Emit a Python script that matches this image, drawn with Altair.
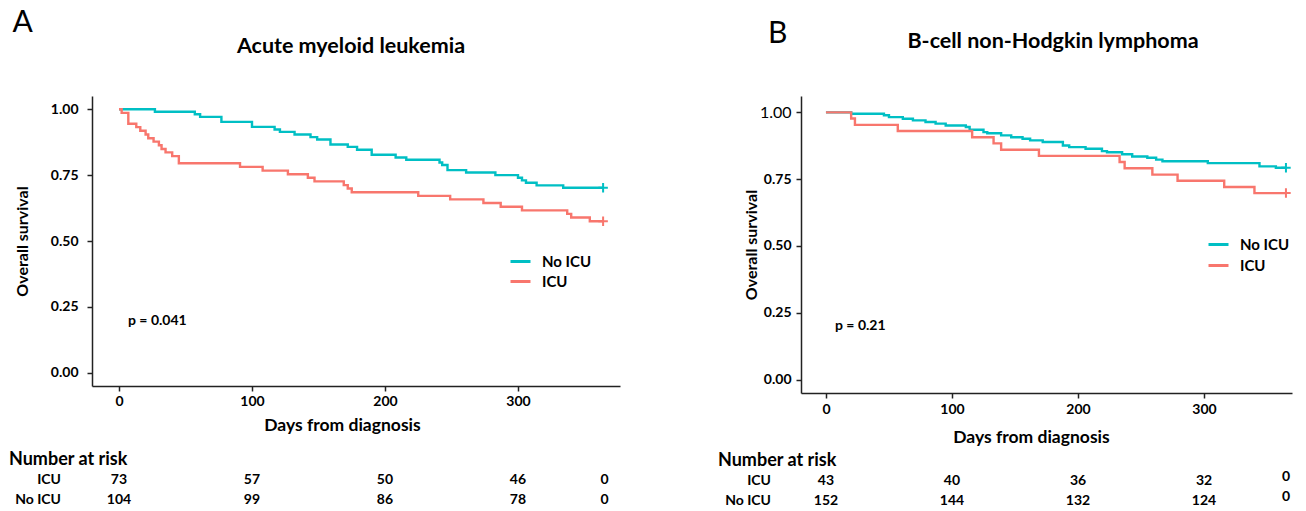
import altair as alt
import pandas as pd

FONT = "Lato"
TEAL = "#00BFC4"
RED = "#F8766D"
GROUPS = ["No ICU", "ICU"]

# ---------------- Panel A: Acute myeloid leukemia ----------------
A_TITLE = "Acute myeloid leukemia"
A_P = "p = 0.041"
A_DAYS_NOICU = [0, 27, 57, 61, 77, 100, 117, 121, 132, 144, 149, 159, 172, 179, 190, 208, 216,
                241, 243, 247, 261, 283, 300, 303, 306, 314, 334, 364]
A_SURV_NOICU = [1.0, 0.990, 0.981, 0.971, 0.952, 0.933, 0.923, 0.914, 0.904, 0.894, 0.885, 0.866,
                0.857, 0.846, 0.827, 0.817, 0.808, 0.798, 0.788, 0.769, 0.760, 0.750, 0.740, 0.730,
                0.721, 0.711, 0.702, 0.702]
A_DAYS_ICU = [0, 2, 7, 13, 16, 20, 22, 26, 30, 32, 35, 40, 45, 91, 108, 127, 142, 147, 169, 172,
              175, 225, 249, 274, 287, 303, 337, 340, 354, 364]
A_SURV_ICU = [1.0, 0.986, 0.945, 0.932, 0.918, 0.904, 0.890, 0.877, 0.863, 0.849, 0.836, 0.822,
              0.795, 0.781, 0.767, 0.753, 0.740, 0.726, 0.712, 0.699, 0.685, 0.671, 0.658, 0.644,
              0.630, 0.616, 0.603, 0.589, 0.575, 0.575]
A_RISK_ICU = [73, 57, 50, 46, 0]
A_RISK_NOICU = [104, 99, 86, 78, 0]

# ---------------- Panel B: B-cell non-Hodgkin lymphoma ----------------
B_TITLE = "B-cell non-Hodgkin lymphoma"
B_P = "p = 0.21"
B_DAYS_NOICU = [0, 20, 46, 50, 61, 69, 79, 87, 95, 111, 114, 125, 128, 139, 147, 156, 162, 172,
                188, 193, 206, 219, 223, 235, 243, 255, 262, 267, 303, 344, 357, 365]
B_SURV_NOICU = [1.0, 0.995, 0.989, 0.982, 0.976, 0.970, 0.964, 0.958, 0.951, 0.945, 0.935, 0.926,
                0.922, 0.914, 0.907, 0.901, 0.895, 0.889, 0.876, 0.870, 0.864, 0.855, 0.851, 0.843,
                0.835, 0.830, 0.823, 0.817, 0.810, 0.798, 0.793, 0.793]
B_DAYS_ICU = [0, 20, 23, 57, 116, 133, 139, 169, 233, 237, 259, 279, 316, 340, 365]
B_SURV_ICU = [1.0, 0.977, 0.953, 0.930, 0.907, 0.884, 0.860, 0.837, 0.814, 0.791, 0.767, 0.744,
              0.721, 0.698, 0.698]
B_RISK_ICU = [43, 40, 36, 32, 0]
B_RISK_NOICU = [152, 144, 132, 124, 0]

RISK_DAYS = [0, 100, 200, 300, 365]
X_TICKS = [0, 100, 200, 300]
Y_TICKS = [0, 0.25, 0.5, 0.75, 1.0]


def curves(dn, sn, di, si):
    rows = []
    for g, ts, ss in (("No ICU", dn, sn), ("ICU", di, si)):
        for t, s in zip(ts, ss):
            rows.append({"day": t, "surv": s, "group": g})
    return pd.DataFrame(rows)


def censor(dn, sn, di, si):
    return pd.DataFrame({"day": [dn[-1], di[-1]], "surv": [sn[-1], si[-1]],
                         "group": ["No ICU", "ICU"]})


def label(text, x, y, size, weight="bold", align="left"):
    return alt.Chart(pd.DataFrame({"t": [text]})).mark_text(
        font=FONT, fontSize=size, fontWeight=weight, align=align, baseline="middle",
        color="black").encode(text="t:N", x=alt.value(x), y=alt.value(y))


def panel(letter, title, pval, cdf, kdf, risk_icu, risk_no, xdom, ytop, w, h, L):
    xs = alt.Scale(domain=xdom, nice=False, zero=False)
    ys = alt.Scale(domain=[-0.05, ytop], nice=False, zero=False)
    xaxis = alt.Axis(values=X_TICKS, grid=False, labelFont=FONT, labelFontSize=14,
                     labelFontWeight="bold", labelColor="black", tickSize=5, tickWidth=1.5,
                     tickColor="#222", domainColor="#222", domainWidth=1.5,
                     labelPadding=L["xlabpad"], titleFont=FONT, titleFontSize=17.5,
                     titleFontWeight="bold", titleColor="black", titlePadding=L["xtitlepad"],
                     titleX=L["xtitlex"], labelFlush=False)
    yaxis = alt.Axis(values=Y_TICKS, format=".2f", grid=False, labelFont=FONT,
                     labelFontSize=alt.ConditionalAxisNumber(
                         condition={"test": "datum.value == 1", "value": L["y1size"]}, value=14),
                     labelFontWeight=alt.ConditionalAxisLabelFontWeight(
                         condition={"test": "datum.value == 1", "value": L["y1weight"]}, value="bold"),
                     labelColor="black", tickSize=5, tickWidth=1.5, tickColor="#222",
                     domainColor="#222", domainWidth=1.5, labelPadding=L["ylabpad"],
                     titleFont=FONT, titleFontSize=16, titleFontWeight="bold", titleColor="black",
                     titlePadding=L["ytitlepad"])
    color = alt.Color("group:N", scale=alt.Scale(domain=GROUPS, range=[TEAL, RED]),
                      legend=alt.Legend(title=None, orient="none", legendX=L["legx"],
                                        legendY=L["legy"], symbolType="stroke", symbolSize=400,
                                        symbolStrokeWidth=3, labelFont=FONT, labelFontSize=15,
                                        labelFontWeight="bold", labelColor="black",
                                        rowPadding=L["rowpad"], labelOffset=10, padding=0))
    X = alt.X("day:Q", scale=xs, axis=xaxis, title="Days from diagnosis")
    Y = alt.Y("surv:Q", scale=ys, axis=yaxis, title="Overall survival")

    lines = alt.Chart(cdf).mark_line(interpolate="step-after", strokeWidth=2.4).encode(
        x=X, y=Y, color=color)
    marks = alt.Chart(kdf).mark_point(shape="M-1,0L1,0M0,-1L0,1", filled=False, size=90,
                                      strokeWidth=2, opacity=1).encode(x=X, y=Y, color=color)

    rdf = pd.DataFrame({"day": RISK_DAYS, "icu": risk_icu, "no": risk_no})
    rbase = alt.Chart(rdf).mark_text(font=FONT, fontSize=14, fontWeight="bold", color="black",
                                     baseline="middle", align="center")
    risk_layers = []
    for fld, ry in (("icu", L["ry_icu"]), ("no", L["ry_no"])):
        risk_layers.append(rbase.transform_filter("datum.day < 365").encode(
            x=X, y=alt.value(ry), text=f"{fld}:Q"))
        risk_layers.append(rbase.transform_filter("datum.day >= 365").encode(
            x=X, y=alt.value(ry + L["last_dy"]), text=f"{fld}:Q"))

    texts = [
        label(letter, L["let_x"], L["let_y"], 30, weight="normal"),
        label(title, L["tit_x"], L["tit_y"], L["tit_size"], align="center"),
        label(pval, L["p_x"], L["p_y"], 14),
        label("Number at risk", L["nar_x"], L["nar_y"], 18),
        label("ICU", L["row_x"], L["ry_icu"], 14, align="right"),
        label("No ICU", L["row_x"], L["ry_no"], 14, align="right"),
    ]
    return alt.layer(lines, marks, *risk_layers, *texts).properties(width=w, height=h)


LA = dict(xlabpad=3, xtitlepad=8, xtitlex=250, ylabpad=9, ytitlepad=20, y1size=14,
          y1weight="bold", legx=417, legy=154, rowpad=0, ry_icu=384, ry_no=404, last_dy=0,
          let_x=-79.5, let_y=-72.8, tit_x=259, tit_y=-49, tit_size=21.5, p_x=36, p_y=225,
          nar_x=-83, nar_y=364, row_x=-31)
LB = dict(xlabpad=4, xtitlepad=12, xtitlex=230, ylabpad=5, ytitlepad=0, y1size=16,
          y1weight="normal", legx=406, legy=137, rowpad=1, ry_icu=385, ry_no=405, last_dy=-4,
          let_x=-33, let_y=-62.3, tit_x=252, tit_y=-54, tit_size=21.5, p_x=34, p_y=230,
          nar_x=-83, nar_y=365, row_x=-30)

chart_a = panel("A", A_TITLE, A_P,
                curves(A_DAYS_NOICU, A_SURV_NOICU, A_DAYS_ICU, A_SURV_ICU),
                censor(A_DAYS_NOICU, A_SURV_NOICU, A_DAYS_ICU, A_SURV_ICU),
                A_RISK_ICU, A_RISK_NOICU, [-20.3, 376.7], 1.05, 528, 290, LA)
chart_b = panel("B", B_TITLE, B_P,
                curves(B_DAYS_NOICU, B_SURV_NOICU, B_DAYS_ICU, B_SURV_ICU),
                censor(B_DAYS_NOICU, B_SURV_NOICU, B_DAYS_ICU, B_SURV_ICU),
                B_RISK_ICU, B_RISK_NOICU, [-19.8, 369.8], 1.0612, 491, 297, LB)

chart = alt.hconcat(chart_a, chart_b, spacing=98).resolve_scale(
    x="independent", y="independent", color="independent").resolve_legend(
    color="independent").properties(
    padding={"left": 1, "top": 0, "right": 0, "bottom": 0}, background="white"
).configure_view(stroke=None)

chart.save("out.html", embed_options={"renderer": "svg", "actions": False})
